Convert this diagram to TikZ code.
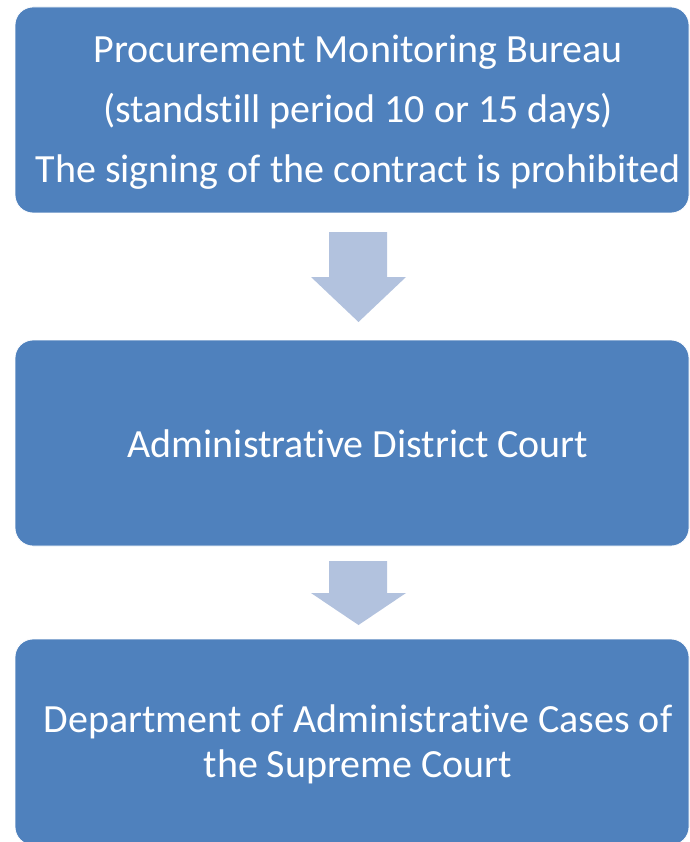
\documentclass[tikz,border=0pt]{standalone}
\usepackage{fontspec}
\setmainfont[Ligatures={NoCommon,NoRare}]{Carlito}
\definecolor{boxblue}{RGB}{79,129,189}
\definecolor{arrowblue}{RGB}{178,194,222}
\begin{document}
\begin{tikzpicture}[x=1pt,y=-1pt,
  box/.style={shape=rectangle, fill=boxblue, draw=white, line width=0.8pt, rounded corners=18pt,
    inner sep=0pt, minimum width=674pt, minimum height=206pt},
  boxtext/.style={text=white, align=center, inner sep=0pt},
  downarrow/.style={fill=arrowblue}]
\useasboundingbox (0,0) rectangle (689,842);
\node[box] (b1) at (352,110) {};
\node[box] (b2) at (352,443) {};
\node[box] (b3) at (352,742) {};
\node[boxtext, font=\fontsize{40}{60}\selectfont] (t1) at (358,112)
  {Procurement Monitoring Bureau\\(standstill period 10 or 15 days)\\The signing of the contract is prohibited};
\node[boxtext, font=\fontsize{40}{48}\selectfont] (t2) at (358,444) {Administrative District Court};
\node[boxtext, font=\fontsize{40}{45}\selectfont] (t3) at (358,744)
  {Department of Administrative Cases of\\the Supreme Court};
% block arrows between boxes
\fill[downarrow] (329,232) -- (387,232) -- (387,277) -- (406,277) -- (358.5,322)
  -- (311,277) -- (329,277) -- cycle;
\fill[downarrow] (329,561) -- (387,561) -- (387,593) -- (406,593) -- (358.5,625)
  -- (311,593) -- (329,593) -- cycle;
\end{tikzpicture}
\end{document}
